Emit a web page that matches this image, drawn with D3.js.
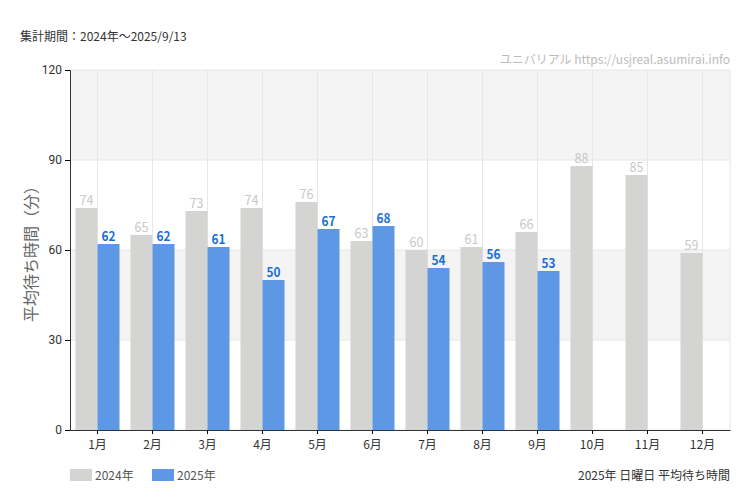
<!DOCTYPE html>
<html><head><meta charset="utf-8">
<script src="https://cdn.jsdelivr.net/npm/d3@7"></script>
<style>body{margin:0;background:#fff;font-family:"Noto Sans CJK JP","Noto Sans",sans-serif;}</style>
</head><body><svg id="c" width="750" height="500"></svg>
<script>
const months = ["1月","2月","3月","4月","5月","6月","7月","8月","9月","10月","11月","12月"];
const v2024 = [74,65,73,74,76,63,60,61,66,88,85,59];
const v2025 = [62,62,61,50,67,68,54,56,53,null,null,null];
const yTicks = [0,30,60,90,120];

const svg = d3.select("#c");
const L=70,R=730,T=70,B=430;
const x = d3.scaleBand().domain(months).range([L,R]);
const y = d3.scaleLinear().domain([0,120]).range([B,T]);
const bw = 22;

// bands
[[90,120],[30,60]].forEach(([a,b])=>svg.append("rect").attr("x",L).attr("width",R-L)
  .attr("y",y(b)).attr("height",y(a)-y(b)).attr("fill","#f4f4f4"));
// horizontal grid
yTicks.forEach(t=>svg.append("line").attr("x1",L).attr("x2",R).attr("y1",y(t)).attr("y2",y(t)).attr("stroke","#e6e6e6"));
// vertical grid at centers
months.forEach(m=>{const cx=x(m)+x.bandwidth()/2;
  svg.append("line").attr("x1",cx).attr("x2",cx).attr("y1",T).attr("y2",B).attr("stroke","#e6e6e6");});
svg.append("line").attr("x1",R).attr("x2",R).attr("y1",T).attr("y2",B).attr("stroke","#e6e6e6");

const cx = m=>x(m)+x.bandwidth()/2;
const lab = "font-family:'Roboto Condensed','Liberation Sans Narrow','Noto Sans',sans-serif";
// 2024 bars
svg.selectAll(".b1").data(months).enter().append("rect")
  .attr("x",m=>cx(m)-bw).attr("width",bw)
  .attr("y",(m,i)=>y(v2024[i])).attr("height",(m,i)=>B-y(v2024[i])).attr("fill","#d4d4d2");
svg.selectAll(".b2").data(months.filter((m,i)=>v2025[i]!=null)).enter().append("rect")
  .attr("x",m=>cx(m)).attr("width",bw)
  .attr("y",(m)=>y(v2025[months.indexOf(m)])).attr("height",m=>B-y(v2025[months.indexOf(m)])).attr("fill","#5e98e4");
// labels
months.forEach((m,i)=>{
  svg.append("text").attr("x",cx(m)-bw/2).attr("y",y(v2024[i])-3).attr("text-anchor","middle")
    .attr("font-size",13).attr("fill","#c8c8c8").attr("transform",`scale(1,1)`).text(v2024[i])
    .attr("textLength",14).attr("lengthAdjust","spacingAndGlyphs");
  if(v2025[i]!=null) svg.append("text").attr("x",cx(m)+bw/2).attr("y",y(v2025[i])-3).attr("text-anchor","middle")
    .attr("font-size",13).attr("font-weight","bold").attr("fill","#1a6fd6").text(v2025[i])
    .attr("textLength",14).attr("lengthAdjust","spacingAndGlyphs");
});
// axes
const ya = svg.append("g").attr("transform",`translate(${L},0)`).call(d3.axisLeft(y).tickValues(yTicks).tickSize(5).tickPadding(3));
ya.select(".domain").attr("stroke","#333");
ya.selectAll("text").attr("font-size",12).attr("fill","#333").attr("font-family","Roboto,sans-serif");
const xa = svg.append("g").attr("transform",`translate(0,${B})`).call(d3.axisBottom(x).tickSize(4).tickPadding(6).tickSizeOuter(0));
xa.select(".domain").attr("stroke","#333");
xa.selectAll("text").attr("font-size",12).attr("fill","#333").attr("font-family","'Noto Sans CJK JP',sans-serif");

svg.append("text").attr("x",20).attr("y",41).attr("font-size",12).attr("fill","#333").text("集計期間：2024年～2025/9/13");
svg.append("text").attr("x",730).attr("y",64).attr("text-anchor","end").attr("font-size",12).attr("fill","#bbb")
  .text("ユニバリアル  https://usjreal.asumirai.info");
svg.append("text").attr("transform","translate(37,250) rotate(-90)").attr("text-anchor","middle")
  .attr("font-size",16).attr("fill","#666").text("平均待ち時間（分）");
// legend
svg.append("rect").attr("x",70).attr("y",469).attr("width",22).attr("height",12).attr("fill","#d4d4d2");
svg.append("text").attr("x",95).attr("y",480).attr("font-size",12).attr("fill","#555").text("2024年");
svg.append("rect").attr("x",152).attr("y",469).attr("width",22).attr("height",12).attr("fill","#5e98e4");
svg.append("text").attr("x",177).attr("y",480).attr("font-size",12).attr("fill","#555").text("2025年");
svg.append("text").attr("x",730).attr("y",480).attr("text-anchor","end").attr("font-size",12).attr("fill","#333").text("2025年 日曜日 平均待ち時間");
</script></body></html>
